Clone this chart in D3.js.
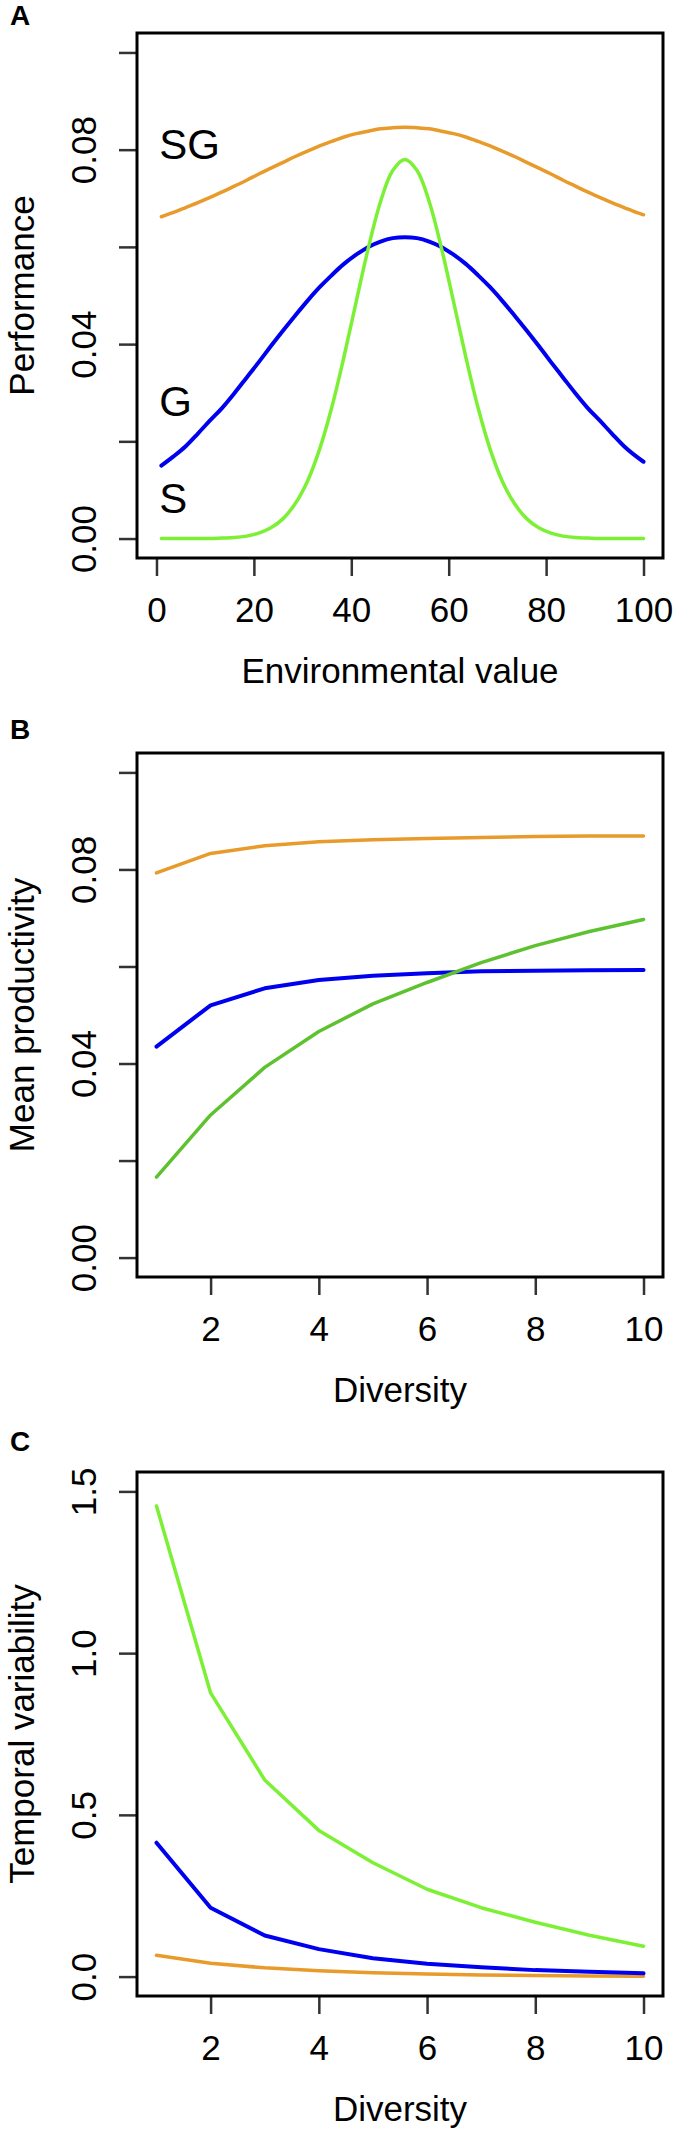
<!DOCTYPE html>
<html>
<head>
<meta charset="utf-8">
<script src="https://cdn.jsdelivr.net/npm/d3@7/dist/d3.min.js"></script>
<style>
  body { margin: 0; background: #fff; }
  svg text { font-family: "Liberation Sans", Arial, Helvetica, sans-serif; fill: #000; }
</style>
</head>
<body>
<div id="chart"></div>
<script>
// panel A : performance along the environmental gradient
var envValue = [1, 3.5, 6, 8.5, 11, 13.5, 16, 18.5, 21, 23.5, 26, 28.5, 31, 33.5, 36, 38.5, 41, 43.5, 46, 48.5,
                51, 53.5, 56, 58.5, 61, 63.5, 66, 68.5, 71, 73.5, 76, 78.5, 81, 83.5, 86, 88.5, 91, 93.5, 96, 98.5, 100];
var perfSG = [0.0662, 0.0671, 0.0681, 0.0691, 0.0702, 0.0713, 0.0725, 0.0737, 0.0750, 0.0762, 0.0774, 0.0786,
              0.0797, 0.0808, 0.0817, 0.0826, 0.0833, 0.0838, 0.0843, 0.0845, 0.0846,
              0.0845, 0.0843, 0.0838, 0.0833, 0.0826, 0.0817, 0.0808, 0.0797, 0.0786, 0.0774, 0.0762,
              0.0750, 0.0737, 0.0725, 0.0713, 0.0702, 0.0691, 0.0681, 0.0671, 0.0666];
var perfG  = [0.0150, 0.0169, 0.0190, 0.0216, 0.0243, 0.0269, 0.0299, 0.0331, 0.0363, 0.0396, 0.0428, 0.0459,
              0.0489, 0.0517, 0.0542, 0.0565, 0.0584, 0.0600, 0.0611, 0.0618, 0.0620,
              0.0618, 0.0611, 0.0600, 0.0584, 0.0565, 0.0542, 0.0517, 0.0489, 0.0459, 0.0428, 0.0396,
              0.0363, 0.0331, 0.0299, 0.0269, 0.0243, 0.0216, 0.0190, 0.0169, 0.0158];
var perfS  = [0, 0, 0, 0, 0, 0.0001, 0.0002, 0.0005, 0.0011, 0.0022, 0.0041, 0.0072,
              0.0118, 0.0184, 0.0270, 0.0374, 0.0487, 0.0598, 0.0693, 0.0757, 0.0780,
              0.0757, 0.0693, 0.0598, 0.0487, 0.0374, 0.0270, 0.0184, 0.0118, 0.0072, 0.0041, 0.0022,
              0.0011, 0.0005, 0.0002, 0.0001, 0, 0, 0, 0, 0];
var strategyTags = ["SG", "G", "S"];
var tagValues = [0.0812, 0.0283, 0.0083];

// panel B : mean productivity vs diversity
var diversity = [1, 2, 3, 4, 5, 6, 7, 8, 9, 10];
var prodSG = [0.0793, 0.0833, 0.0849, 0.0857, 0.0861, 0.0864, 0.0866, 0.0868, 0.0869, 0.0869];
var prodG  = [0.0435, 0.0520, 0.0555, 0.0572, 0.0581, 0.0586, 0.0590, 0.0591, 0.0592, 0.0593];
var prodS  = [0.0166, 0.0294, 0.0392, 0.0466, 0.0523, 0.0567, 0.0608, 0.0643, 0.0672, 0.0697];

// panel C : temporal variability vs diversity
var varSG = [0.066, 0.041, 0.027, 0.018, 0.012, 0.008, 0.005, 0.003, 0.002, 0.001];
var varG  = [0.414, 0.213, 0.127, 0.085, 0.057, 0.040, 0.029, 0.020, 0.015, 0.010];
var varS  = [1.455, 0.877, 0.608, 0.452, 0.352, 0.270, 0.213, 0.168, 0.128, 0.094];

// axis ticks
var envTicks = [0, 20, 40, 60, 80, 100];
var divTicks = [2, 4, 6, 8, 10];
var smallTicks = [0, 0.02, 0.04, 0.06, 0.08, 0.10];
var smallTickLabels = ["0.00", "", "0.04", "", "0.08", ""];
var cvTicks = [0, 0.5, 1.0, 1.5];
var cvTickLabels = ["0.0", "0.5", "1.0", "1.5"];

var colSG = "#e89b2b", colG = "#0000f0", colS = "#7cf035", colSdark = "#5ec12f";

var width = 678, height = 2132;
var boxLeft = 137, boxRight = 663;

var svg = d3.select("#chart").append("svg")
    .attr("width", width)
    .attr("height", height);

var panels = [
    {label: "A", labelY: 25, top: 33, bottom: 558, xlim: [0, 100], ylim: [0, 0.1],
     x: envValue, series: [[perfSG, colSG], [perfG, colG], [perfS, colS]],
     xTicks: envTicks, yTicks: smallTicks, yLabels: smallTickLabels,
     xTitle: "Environmental value", yTitle: "Performance", curve: d3.curveCatmullRom, tags: true},
    {label: "B", labelY: 739, top: 753, bottom: 1277, xlim: [1, 10], ylim: [0, 0.1],
     x: diversity, series: [[prodSG, colSG], [prodG, colG], [prodS, colSdark]],
     xTicks: divTicks, yTicks: smallTicks, yLabels: smallTickLabels,
     xTitle: "Diversity", yTitle: "Mean productivity", curve: d3.curveLinear},
    {label: "C", labelY: 1451, top: 1472, bottom: 1996, xlim: [1, 10], ylim: [0, 1.5],
     x: diversity, series: [[varSG, colSG], [varG, colG], [varS, colS]],
     xTicks: divTicks, yTicks: cvTicks, yLabels: cvTickLabels,
     xTitle: "Diversity", yTitle: "Temporal variability", curve: d3.curveLinear}
];

// R style 4% padding around the data limits
function padded(lim) {
    var d = (lim[1] - lim[0]) * 0.04;
    return [lim[0] - d, lim[1] + d];
}

panels.forEach(function(p) {
    var x = d3.scaleLinear().domain(padded(p.xlim)).range([boxLeft, boxRight]);
    var y = d3.scaleLinear().domain(padded(p.ylim)).range([p.bottom, p.top]);
    var g = svg.append("g").attr("class", "panel");

    g.append("text")
        .attr("x", 10).attr("y", p.labelY)
        .attr("font-size", 28).attr("font-weight", "bold")
        .text(p.label);

    // x axis
    var xAxis = g.append("g")
        .attr("transform", "translate(0," + (p.bottom + 1) + ")")
        .call(d3.axisBottom(x).tickValues(p.xTicks).tickSize(17).tickPadding(21).tickFormat(d3.format("d")));
    xAxis.select(".domain").remove();
    xAxis.selectAll(".tick line").attr("stroke", "#333").attr("stroke-width", 2.5);
    xAxis.selectAll(".tick text").attr("font-size", 35).attr("fill", "#000")
        .attr("font-family", "'Liberation Sans', Arial, sans-serif");

    // y axis, labels parallel to the axis
    var yAxis = g.append("g")
        .attr("transform", "translate(" + (boxLeft - 1) + ",0)")
        .call(d3.axisLeft(y).tickValues(p.yTicks).tickSize(17).tickFormat(function(d, i) { return p.yLabels[i]; }));
    yAxis.select(".domain").remove();
    yAxis.selectAll(".tick line").attr("stroke", "#333").attr("stroke-width", 2.5);
    yAxis.selectAll(".tick text")
        .attr("font-size", 35).attr("fill", "#000")
        .attr("font-family", "'Liberation Sans', Arial, sans-serif")
        .attr("x", null).attr("dy", null)
        .attr("text-anchor", "middle")
        .attr("transform", "translate(" + (96 - boxLeft + 1) + ",0) rotate(-90)");

    g.append("text")
        .attr("transform", "translate(34," + ((p.top + p.bottom) / 2) + ") rotate(-90)")
        .attr("text-anchor", "middle")
        .attr("font-size", 35)
        .text(p.yTitle);

    g.append("text")
        .attr("x", (boxLeft + boxRight) / 2)
        .attr("y", p.bottom + 125)
        .attr("text-anchor", "middle")
        .attr("font-size", 35)
        .text(p.xTitle);

    var line = d3.line()
        .x(function(d, i) { return x(p.x[i]); })
        .y(function(d) { return y(d); })
        .curve(p.curve);

    p.series.forEach(function(s) {
        g.append("path")
            .attr("d", line(s[0]))
            .attr("fill", "none")
            .attr("stroke", s[1])
            .attr("stroke-width", s[1] == colG ? 4 : 3.5)
            .attr("stroke-linecap", "round")
            .attr("stroke-linejoin", "round");
    });

    if (p.tags) {
        strategyTags.forEach(function(t, i) {
            g.append("text")
                .attr("x", x(p.x[0]) - 2)
                .attr("y", y(tagValues[i]))
                .attr("dy", "0.35em")
                .attr("font-size", 42)
                .text(t);
        });
    }

    g.append("rect")
        .attr("x", boxLeft).attr("y", p.top)
        .attr("width", boxRight - boxLeft).attr("height", p.bottom - p.top)
        .attr("fill", "none").attr("stroke", "#000").attr("stroke-width", 3);
});
</script>
</body>
</html>
